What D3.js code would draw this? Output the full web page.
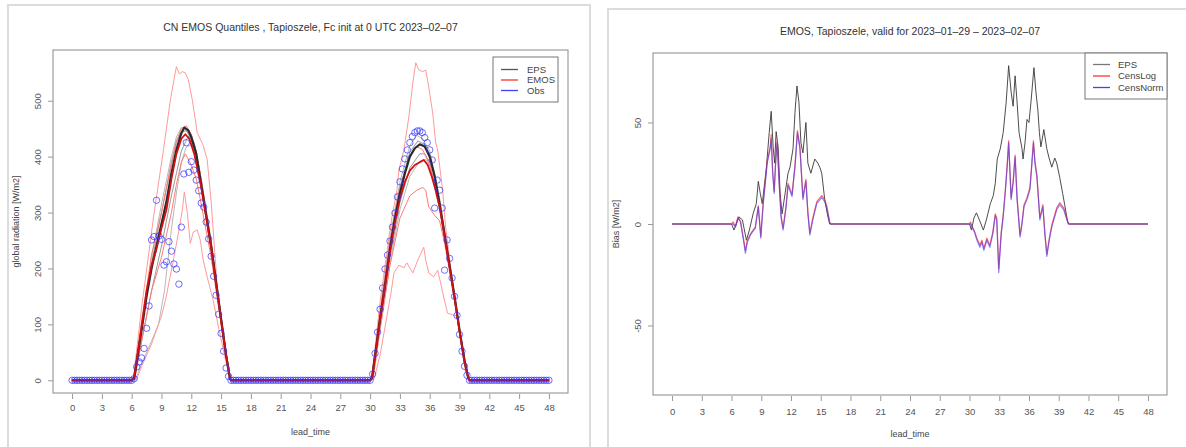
<html>
<head>
<meta charset="utf-8">
<style>
    body { margin: 0; background: white; }
    svg { font-family: "Liberation Sans", Arial, sans-serif; }
    .title { font-size: 10.5px; fill: #333; }
    .tick text { font-size: 9.5px; fill: #555; }
    .axtitle { font-size: 9px; fill: #444; }
    .legend { font-size: 9.5px; fill: #444; }
</style>
</head>
<body>
<svg width="1186" height="447"></svg>
<script src="https://d3js.org/d3.v7.min.js"></script>
<script>

// ---------- data, left panel (quantiles) ----------
let leadTicks = [0, 3, 6, 9, 12, 15, 18, 21, 24, 27, 30, 33, 36, 39, 42, 45, 48]
let radTicks = [0, 100, 200, 300, 400, 500]
let biasTicks = [-50, 0, 50]

let obsStep = 0.25
let obs = [
    0,0,0,0,0,0,0,0,0,0,0,0,0,0,0,0,0,0,0,0,0,0,0,0,
    0,3,24,33,40,57,93,133,251,257,322,258,252,206,212,248,231,208,199,172,
    274,369,425,372,391,376,358,339,317,310,283,253,222,186,152,118,84,52,22,7,0,
    0,0,0,0,0,0,0,0,0,0,0, 0,0,0,0,0,0,0,0,0,0,0, 0,0,0,0,0,0,0,0,0,0,0,
    0,0,0,0,0,0,0,0,0,0,0, 0,0,0,0,0,0,0,0,0,0,0,
    0,11,48,86,127,165,199,224,249,274,299,328,355,378,396,412,425,436,443,446,
    446,443,434,425,412,394,308,358,340,308,197,251,218,183,150,116,82,52,25,9,0,
    0,0,0,0,0,0,0,0,0,0,0,0,0,0,0,0,
    0,0,0,0,0,0,0,0,0,0,0,0,0,0,0,0
]

let epsMedian = [[0,0],[6,0],[6.25,3],[7,90],[7.5,150],[8,200],[8.5,240],[9,280],[9.5,320],[10,370],[10.5,412],[11,442],[11.3,452],[11.7,447],[12,435],[12.5,405],[13,350],[13.5,295],[14,240],[14.5,175],[15,110],[15.5,45],[15.9,3],[16,0],
    [30,0],[30.2,5],[31,110],[31.5,170],[32,235],[32.5,290],[33,335],[33.5,370],[34,400],[34.5,415],[35,422],[35.5,418],[36,400],[36.5,365],[37,315],[37.5,260],[38,205],[38.5,150],[39,90],[39.5,35],[39.9,3],[40,0],[48,0]]
let epsHi2 = [[0,0],[6,0],[6.2,5],[7,105],[8,220],[9,315],[10,400],[10.5,435],[11,452],[11.5,450],[12,430],[13,345],[14,230],[15,100],[15.8,5],[16,0],
    [30,0],[30.2,6],[31,125],[32,255],[33,355],[34,420],[34.7,438],[35.3,432],[36,410],[37,325],[38,210],[39,92],[39.8,5],[40,0],[48,0]]
let epsHi1 = [[0,0],[6,0],[6.2,4],[7,98],[8,210],[9,300],[10,385],[10.5,425],[11,445],[11.5,446],[12,432],[13,350],[14,236],[15,105],[15.8,4],[16,0],
    [30,0],[30.2,5],[31,118],[32,245],[33,345],[34,408],[34.8,428],[35.5,422],[36,405],[37,320],[38,208],[39,90],[39.9,3],[40,0],[48,0]]
let epsLo1 = [[0,0],[6,0],[6.3,3],[7,70],[8,160],[9,240],[10,330],[11,410],[11.7,437],[12.3,425],[13,360],[14,250],[15,115],[15.9,3],[16,0],
    [30,0],[30.25,3],[31,100],[32,220],[33,318],[34,380],[35,405],[35.5,405],[36,390],[37,308],[38,200],[39,88],[39.9,3],[40,0],[48,0]]
let epsLo2 = [[0,0],[6,0],[6.4,2],[7,30],[8,70],[8.7,100],[9.3,160],[10,270],[10.5,335],[11,390],[11.5,418],[12,420],[12.5,400],[13,350],[14,245],[15,112],[15.9,3],[16,0],
    [30,0],[30.3,2],[31,92],[32,210],[33,305],[34,365],[35,392],[35.6,395],[36,383],[37,305],[38,198],[39,86],[39.9,3],[40,0],[48,0]]

let emosMedian = [[0,0],[6,0],[6.25,5],[7,95],[7.5,160],[8,205],[8.5,235],[9,272],[9.5,305],[10,360],[10.5,405],[11,432],[11.4,440],[11.8,432],[12.3,405],[13,345],[13.5,292],[14,238],[14.5,172],[15,108],[15.5,45],[15.9,3],[16,0],
    [30,0],[30.2,5],[31,108],[31.5,168],[32,230],[32.5,282],[33,325],[33.5,355],[34,375],[34.5,385],[35,390],[35.4,394],[35.8,385],[36.2,365],[36.6,340],[37,310],[37.5,258],[38,203],[38.5,148],[39,88],[39.5,33],[39.9,3],[40,0],[48,0]]
let emosHi = [[0,0],[6,0],[6.2,8],[7,130],[8.2,292],[9.2,412],[9.9,502],[10.5,561],[10.8,548],[11.1,552],[11.4,550],[11.7,538],[12.1,502],[12.6,443],[13.2,420],[13.6,395],[14,320],[14.6,170],[15.2,70],[15.8,5],[16,0],
    [30,0],[30.2,10],[31,140],[31.9,256],[32.2,292],[32.7,340],[32.9,376],[33.4,412],[33.9,471],[34.3,532],[34.6,568],[34.9,555],[35.3,552],[35.6,555],[35.9,525],[36.3,478],[36.6,425],[36.8,412],[37.3,340],[37.6,274],[38.1,203],[38.4,161],[39,85],[39.5,30],[39.9,3],[40,0],[48,0]]
let emosLo = [[0,0],[6,0],[6.5,2],[7,25],[8,65],[8.5,90],[9,115],[9.4,143],[10.2,215],[10.7,263],[11.1,305],[11.3,337],[11.6,300],[11.9,245],[12.2,265],[12.6,269],[12.9,251],[13.2,215],[13.6,185],[14.2,143],[14.8,90],[15.4,40],[15.9,3],[16,0],
    [30,0],[30.4,2],[31,45],[31.5,95],[32.1,156],[32.4,192],[32.9,206],[33.4,201],[33.7,210],[34.3,192],[34.8,215],[35.4,238],[35.6,215],[35.9,192],[36.4,185],[36.8,197],[37.1,174],[37.4,149],[37.8,120],[38.3,117],[38.8,115],[39.2,60],[39.6,15],[39.9,2],[40,0],[48,0]]
let emosQ75 = [[0,0],[6,0],[6.2,6],[7,105],[8,225],[9,300],[10,390],[10.5,428],[11,450],[11.5,455],[12,440],[12.5,410],[13,360],[14,245],[15,110],[15.9,3],[16,0],
    [30,0],[30.2,6],[31,120],[32,250],[33,345],[34,400],[34.7,418],[35.3,412],[36,385],[37,320],[38,208],[39,90],[39.9,3],[40,0],[48,0]]
let emosQ25 = [[0,0],[6,0],[6.3,3],[7,70],[8,160],[9,220],[10,300],[10.5,350],[11,390],[11.4,405],[12,385],[12.5,360],[13,315],[14,220],[15,100],[15.9,3],[16,0],
    [30,0],[30.3,3],[31,90],[32,205],[33,290],[34,330],[34.7,340],[35.3,345],[35.6,340],[35.9,310],[36.5,295],[37,285],[37.5,245],[38,195],[39,85],[39.9,3],[40,0],[48,0]]

// ---------- data, right panel (bias) ----------
let biasEPS = [[0,0],[6,0],[6.25,-3],[6.75,3.5],[7.1,2],[7.5,-8],[7.8,-3],[8.2,5.5],[8.5,10],[8.7,21],[8.9,15],[9.1,10],[9.5,27],[9.8,45],[10,55.5],[10.2,38],[10.35,30],[10.5,45.5],[10.7,38],[10.9,15],[11.1,5],[11.4,15],[11.7,25],[11.9,28],[12.2,37],[12.4,55],[12.6,68],[12.8,60],[13,40],[13.2,35],[13.5,50],[13.7,30],[14,25],[14.4,32],[14.7,30],[14.9,28],[15.1,25],[15.4,12],[15.7,4],[15.9,0],
    [30,0],[30.2,-3],[30.45,3],[30.7,5.5],[31,2],[31.4,-3],[31.7,2],[32.1,10],[32.4,14],[32.6,20],[32.8,32],[33.1,37],[33.4,45],[33.7,60],[33.95,78],[34.2,65],[34.4,58],[34.6,73],[34.8,60],[35,45],[35.3,37],[35.4,32],[35.6,40],[35.8,51.5],[36,50],[36.2,60],[36.5,77],[36.7,65],[36.9,56],[37.05,45],[37.2,38],[37.5,46.5],[37.8,37],[38,33],[38.3,28],[38.6,32.5],[38.8,30],[39.1,23],[39.4,15],[39.6,9.5],[39.9,1],[40,0],[48,0]]
let biasCensNorm = [[0,0],[6,0],[6.15,0],[6.4,-1.5],[6.65,3],[6.9,1],[7.2,-8],[7.4,-14.5],[7.6,-9],[7.9,-5.5],[8.1,-4],[8.4,-2],[8.7,8.5],[8.95,-7],[9.2,10],[9.6,30],[9.9,37],[10,42],[10.15,25],[10.3,15],[10.45,30],[10.6,40],[10.8,20],[11,3],[11.2,-3],[11.5,8],[11.7,19],[12.1,13.5],[12.4,28],[12.65,45],[12.9,37],[13.2,12],[13.5,21],[13.7,5],[13.9,-5.5],[14.2,2],[14.6,10],[15.1,13],[15.4,11],[15.6,8],[15.9,0.5],[16,0],
    [30,0],[30.1,0],[30.3,-2],[30.5,-4],[30.75,-8],[31.05,-11.5],[31.25,-9],[31.45,-13],[31.75,-8],[32.05,-11.5],[32.35,-5],[32.6,4],[32.75,2],[32.95,-24],[33.2,-5],[33.4,3.5],[33.6,15],[33.8,28],[33.95,40],[34.2,12],[34.4,20],[34.6,33],[34.8,12],[35.1,-6.5],[35.3,0],[35.5,8.5],[35.8,12],[36.1,17],[36.3,30],[36.45,40],[36.6,30],[36.8,23],[37.1,2],[37.4,8.5],[37.6,-5],[37.8,-16],[38.05,-8],[38.3,-1.5],[38.8,7],[39.1,9.5],[39.5,7],[39.9,1],[40,0],[48,0]]
let biasCensLog = [[0,0],[6,0],[6.15,1],[6.4,-1],[6.65,3.5],[6.9,1.5],[7.2,-7],[7.4,-13],[7.6,-8],[7.9,-5],[8.1,-3.5],[8.4,-1.5],[8.7,9],[8.95,-6],[9.2,11],[9.6,31],[9.9,38],[10,44],[10.15,26],[10.3,16],[10.45,31],[10.6,41],[10.8,21],[11,4],[11.2,-2],[11.5,9],[11.7,20],[12.1,14.5],[12.4,29],[12.65,46],[12.9,38],[13.2,13],[13.5,22],[13.7,6],[13.9,-4.5],[14.2,3],[14.6,11],[15.1,14],[15.4,12],[15.6,9],[15.9,1],[16,0],
    [30,0],[30.1,1],[30.3,-1.5],[30.5,-3.5],[30.75,-7],[31.05,-10.5],[31.25,-8],[31.45,-12],[31.75,-7],[32.05,-10.5],[32.35,-4],[32.6,5],[32.75,3],[32.95,-22],[33.2,-4],[33.4,4.5],[33.6,16],[33.8,29],[33.95,41],[34.2,13],[34.4,21],[34.6,34],[34.8,13],[35.1,-5.5],[35.3,1],[35.5,9.5],[35.8,13],[36.1,18],[36.3,31],[36.45,41],[36.6,31],[36.8,24],[37.1,3],[37.4,9.5],[37.6,-4],[37.8,-15],[38.05,-7],[38.3,-0.5],[38.8,8],[39.1,10.5],[39.5,8],[39.9,1.5],[40,0],[48,0]]

// ---------- drawing ----------
let svg = d3.select("svg")

// panel frames
svg.append("rect").attr("x", 8).attr("y", 5).attr("width", 582).attr("height", 470)
    .attr("fill", "none").attr("stroke", "#dcdcdc").attr("stroke-width", 2)
svg.append("rect").attr("x", 608).attr("y", 9).attr("width", 600).attr("height", 470)
    .attr("fill", "none").attr("stroke", "#dcdcdc").attr("stroke-width", 2)

// R pads axis ranges by 4% on each side
function rPad(lo, hi) {
    let d = (hi - lo) * 0.04
    return [lo - d, hi + d]
}

function drawFrame(g, box, x, y, yTicks, xTitle, yTitle, title, titleY, labPad) {
    g.append("rect")
        .attr("x", box.left).attr("y", box.top)
        .attr("width", box.right - box.left).attr("height", box.bottom - box.top)
        .attr("fill", "none").attr("stroke", "#8a8a8a")

    g.append("g")
        .attr("transform", `translate(0, ${box.bottom + 1})`)
        .call(d3.axisBottom(x).tickValues(leadTicks).tickSize(5).tickPadding(labPad))
        .call(a => a.select(".domain").remove())
        .call(a => a.selectAll(".tick line").attr("stroke", "#999"))

    g.append("g")
        .attr("transform", `translate(${box.left}, 0)`)
        .call(d3.axisLeft(y).tickValues(yTicks).tickSize(5).tickFormat(d => String(d)))
        .call(a => a.select(".domain").remove())
        .call(a => a.selectAll(".tick line").attr("stroke", "#999"))
        .call(a => a.selectAll(".tick text")
            .attr("x", 0).attr("y", -12.5).attr("dy", 0)
            .attr("text-anchor", "middle")
            .attr("transform", "rotate(-90)"))

    g.append("text").attr("class", "title")
        .attr("x", (box.left + box.right) / 2).attr("y", titleY)
        .attr("text-anchor", "middle").text(title)

    g.append("text").attr("class", "axtitle")
        .attr("x", (box.left + box.right) / 2).attr("y", box.bottom + 42)
        .attr("text-anchor", "middle").text(xTitle)

    g.append("text").attr("class", "axtitle")
        .attr("transform", `translate(${box.left - 34.5}, ${(box.top + box.bottom) / 2}) rotate(-90)`)
        .attr("text-anchor", "middle").text(yTitle)
}

// ----- left panel -----
let boxL = {left: 53, right: 568, top: 50, bottom: 393}
let allRad = obs.concat(emosHi.map(d => d[1]))
let xL = d3.scaleLinear().domain(rPad(0, 48)).range([boxL.left, boxL.right])
let yL = d3.scaleLinear().domain(rPad(0, d3.max(allRad))).range([boxL.bottom, boxL.top])

let gL = svg.append("g")
drawFrame(gL, boxL, xL, yL, radTicks, "lead_time", "global radiation [W/m2]",
    "CN EMOS Quantiles , Tapioszele, Fc init at 0 UTC 2023–02–07", 31, 5)

let lineL = d3.line().x(d => xL(d[0])).y(d => yL(d[1]))

let leftLines = [
    {data: epsHi2, color: "#b8b8b8", w: 1},
    {data: epsLo2, color: "#b8b8b8", w: 1},
    {data: epsHi1, color: "#9a9a9a", w: 1},
    {data: epsLo1, color: "#9a9a9a", w: 1},
    {data: emosHi, color: "#ff9a9a", w: 1},
    {data: emosLo, color: "#ff9a9a", w: 1},
    {data: emosQ75, color: "#ff7a7a", w: 1},
    {data: emosQ25, color: "#ff7a7a", w: 1},
    {data: epsMedian, color: "#2a2a2a", w: 2.2},
    {data: emosMedian, color: "#d01010", w: 1.8}
]

gL.append("g").selectAll("path")
    .data(leftLines)
    .join("path")
    .attr("d", d => lineL(d.data))
    .attr("fill", "none")
    .attr("stroke", d => d.color)
    .attr("stroke-width", d => d.w)
    .attr("stroke-linejoin", "round")

gL.append("g").selectAll("circle")
    .data(obs)
    .join("circle")
    .attr("cx", (d, i) => xL(i * obsStep))
    .attr("cy", d => yL(d))
    .attr("r", 3.2)
    .attr("fill", "none")
    .attr("stroke", "#3030ff")
    .attr("stroke-opacity", 0.7)
    .attr("stroke-width", 1)

// legend left
let legL = [["EPS", "#555"], ["EMOS", "#ff3030"], ["Obs", "#4040ff"]]
gL.append("rect").attr("x", 493).attr("y", 57).attr("width", 65).attr("height", 45)
    .attr("fill", "white").attr("stroke", "#777")
legL.forEach((d, i) => {
    let yy = 69.5 + i * 10.5
    gL.append("line").attr("x1", 501).attr("x2", 518).attr("y1", yy).attr("y2", yy)
        .attr("stroke", d[1]).attr("stroke-width", 1.3)
    gL.append("text").attr("class", "legend").attr("x", 527).attr("y", yy + 3).text(d[0])
})

// ----- right panel -----
let boxR = {left: 653, right: 1167, top: 53, bottom: 395}
let maxBias = d3.max(biasEPS.concat(biasCensNorm, biasCensLog), d => Math.abs(d[1]))
let xR = d3.scaleLinear().domain(rPad(0, 48)).range([boxR.left, boxR.right])
let yR = d3.scaleLinear().domain(rPad(-maxBias, maxBias)).range([boxR.bottom, boxR.top])

let gR = svg.append("g")
drawFrame(gR, boxR, xR, yR, biasTicks, "lead_time", "Bias [W/m2]",
    "EMOS, Tapioszele, valid for 2023–01–29 – 2023–02–07", 35, 7.5)

let lineR = d3.line().x(d => xR(d[0])).y(d => yR(d[1]))

let rightLines = [
    {data: biasEPS, color: "#3a3a3a", w: 1, op: 0.9},
    {data: biasCensLog, color: "#ff3030", w: 1.2, op: 0.75},
    {data: biasCensNorm, color: "#3a3aff", w: 1.2, op: 0.6}
]

gR.append("g").selectAll("path")
    .data(rightLines)
    .join("path")
    .attr("d", d => lineR(d.data))
    .attr("fill", "none")
    .attr("stroke", d => d.color)
    .attr("stroke-opacity", d => d.op)
    .attr("stroke-width", d => d.w)
    .attr("stroke-linejoin", "round")

let legR = [["EPS", "#777"], ["CensLog", "#ff3030"], ["CensNorm", "#4040ff"]]
gR.append("rect").attr("x", 1085).attr("y", 53).attr("width", 82).attr("height", 46)
    .attr("fill", "white").attr("stroke", "#777")
legR.forEach((d, i) => {
    let yy = 64.5 + i * 11.5
    gR.append("line").attr("x1", 1093).attr("x2", 1110).attr("y1", yy).attr("y2", yy)
        .attr("stroke", d[1]).attr("stroke-width", 1.3)
    gR.append("text").attr("class", "legend").attr("x", 1118).attr("y", yy + 3).text(d[0])
})

</script>
</body>
</html>
